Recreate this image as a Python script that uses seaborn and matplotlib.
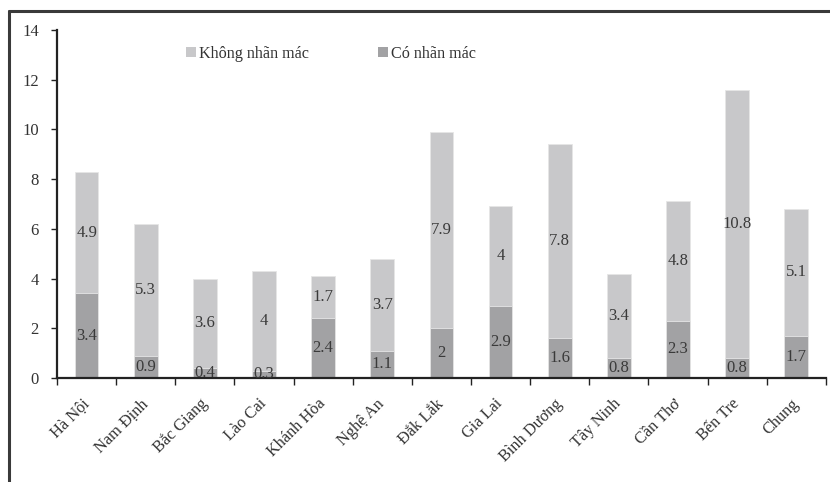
import matplotlib
matplotlib.use("Agg")
import matplotlib.pyplot as plt
from matplotlib.lines import Line2D
from matplotlib.patches import Patch
import seaborn as sns
import pandas as pd
import numpy as np

# Data
provinces = ["Hà Nội", "Nam Định", "Bắc Giang", "Lào Cai", "Khánh Hòa", "Nghệ An",
             "Đắk Lắk", "Gia Lai", "Bình Dương", "Tây Ninh", "Cần Thơ", "Bến Tre", "Chung"]
co_nhan_mac = [3.4, 0.9, 0.4, 0.3, 2.4, 1.1, 2.0, 2.9, 1.6, 0.8, 2.3, 0.8, 1.7]
khong_nhan_mac = [4.9, 5.3, 3.6, 4.0, 1.7, 3.7, 7.9, 4.0, 7.8, 3.4, 4.8, 10.8, 5.1]
series_names = ["Không nhãn mác", "Có nhãn mác"]
y_ticks = [0, 2, 4, 6, 8, 10, 12, 14]

df = pd.DataFrame({"province": provinces, "co": co_nhan_mac, "khong": khong_nhan_mac})
df["total"] = df["co"] + df["khong"]

sns.set_theme(style="white")
plt.rcParams["font.family"] = ["Liberation Serif", "DejaVu Serif"]

light = "#c8c8ca"
dark = "#a2a2a4"
ink = "#222222"
label_col = "#3a3a3a"

fig = plt.figure(figsize=(8.3, 4.82), dpi=100)
ax = fig.add_axes([0.0687, 0.2158, 0.9263, 0.722])

# stacked bars: full height in light grey, lower segment in dark grey on top
sns.barplot(data=df, x="province", y="total", color=light, width=0.4,
            saturation=1, edgecolor="#e6e6e6", linewidth=0.6, ax=ax)
sns.barplot(data=df, x="province", y="co", color=dark, width=0.4,
            saturation=1, edgecolor="#e6e6e6", linewidth=0.6, ax=ax)

# value labels centred in each segment
for i, (c, k) in enumerate(zip(co_nhan_mac, khong_nhan_mac)):
    ax.text(i, c / 2, f"{c:g}", ha="center", va="center", fontsize=12, color=label_col)
    ax.text(i, c + k / 2, f"{k:g}", ha="center", va="center", fontsize=12, color=label_col)

ax.set_xlim(-0.5, len(provinces) - 0.5)
ax.set_ylim(0, 14)
ax.set_yticks(y_ticks)
ax.set_yticklabels([str(t) for t in y_ticks])
ax.set_xlabel("")
ax.set_ylabel("")

for s in ["top", "right"]:
    ax.spines[s].set_visible(False)
for s in ["left", "bottom"]:
    ax.spines[s].set_color(ink)
    ax.spines[s].set_linewidth(1.6)

ax.tick_params(axis="y", direction="out", length=4, width=1, color=ink,
               labelsize=12, labelcolor="#333333", pad=9, left=True)
# x: tick marks on category boundaries, labels at centres
ax.set_xticks(np.arange(-0.5, len(provinces), 1.0), minor=True)
ax.tick_params(axis="x", which="minor", direction="out", length=5, width=1, color=ink, bottom=True)
ax.tick_params(axis="x", which="major", length=0, pad=17, labelsize=11.8, labelcolor="#333333")
for lbl in ax.get_xticklabels():
    lbl.set_rotation(45)
    lbl.set_ha("right")
    lbl.set_va("center")
    lbl.set_rotation_mode("anchor")

# legend across the top
handles = [Patch(facecolor=light, edgecolor="none"), Patch(facecolor=dark, edgecolor="none")]
fig.legend(handles, series_names, loc="center left", bbox_to_anchor=(0.207, 0.888),
           ncol=2, frameon=False, fontsize=11.6, handlelength=0.6, handleheight=0.6,
           handletextpad=0.2, columnspacing=4.3, labelcolor="#333333")

# outer frame (top and left edges)
fig.add_artist(Line2D([0.0108, 1.0], [0.977, 0.977], color="#3a3a3a", lw=2.2,
                      transform=fig.transFigure))
fig.add_artist(Line2D([0.0108, 0.0108], [0.0, 0.977], color="#3a3a3a", lw=2.2,
                      transform=fig.transFigure))

fig.savefig("out.png", dpi=100, facecolor="white")
